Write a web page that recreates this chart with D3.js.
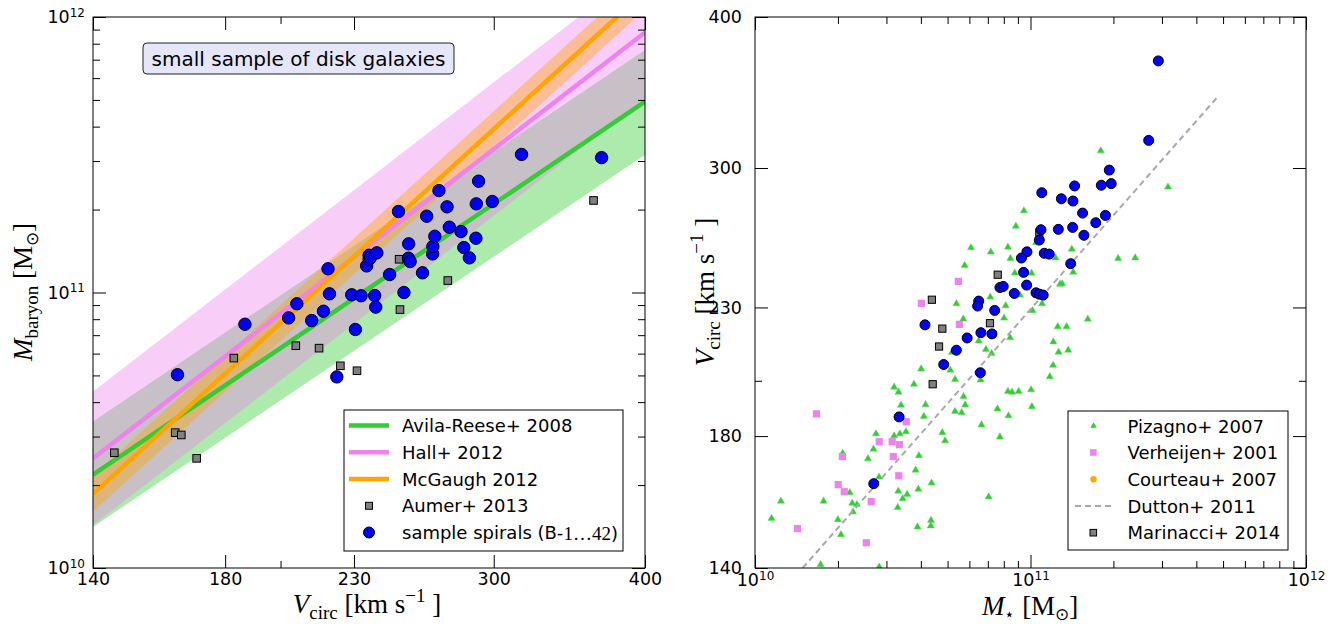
<!DOCTYPE html>
<html><head><meta charset="utf-8">
<script src="https://cdn.jsdelivr.net/npm/d3@7"></script>
<style>
body{margin:0;background:#fff}
svg{display:block}
</style>
</head><body>
<svg id="chart" width="1336" height="624" font-family="DejaVu Sans"></svg>
<script>
// ---------------- tick values ----------------
const vTicks = [140, 180, 230, 300, 400];
const vMinorTicks = [200];
const massTicks = [1e10, 1e11, 1e12];
const massMinorTicks = [2e10,3e10,4e10,5e10,6e10,7e10,8e10,9e10,2e11,3e11,4e11,5e11,6e11,7e11,8e11,9e11];

// ---------------- left panel: scaling relations (endpoints at V = 140, 400) ----------------
const relationV = [140, 400];
const avilaReeseM  = [2.18e10, 4.93e11];
const avilaReeseLo = [1.41e10, 3.16e11];
const avilaReeseHi = [3.40e10, 7.59e11];
const hallM  = [2.50e10, 8.79e11];
const hallLo = [1.43e10, 5.04e11];
const hallHi = [4.37e10, 1.535e12];
const mcgaughM  = [1.86e10, 1.238e12];
const mcgaughLo = [1.60e10, 1.066e12];
const mcgaughHi = [2.16e10, 1.438e12];

// Aumer+ 2013 (left panel)
const aumerV = [183.0, 205.9, 215.2, 224.1, 231.3, 250.6, 251.0, 274.9, 362.7, 145.8, 163.7, 165.6, 170.5];
const aumerMbar = [5.78e10, 6.41e10, 6.28e10, 5.42e10, 5.20e10, 1.32e11, 8.67e10, 1.105e11, 2.158e11, 2.62e10, 3.10e10, 3.04e10, 2.50e10];

// sample spirals (left panel)
const spiralV = [164.4, 186.9, 203.1, 206.3, 212.2, 217.0, 218.9, 219.5, 222.6, 229.0, 230.6, 233.1, 235.6, 236.7, 236.7, 237.3,
  239.2, 239.7, 240.2, 246.1, 250.3, 252.9, 255.1, 255.9, 255.2, 262.0, 264.1, 267.1, 267.2, 268.2, 270.3, 274.5, 275.7,
  281.9, 283.4, 286.4, 290.0, 290.2, 291.5, 299.2, 316.3, 368.3];
const spiralMbar = [5.03e10, 7.67e10, 8.09e10, 9.10e10, 7.91e10, 8.55e10, 1.219e11, 9.89e10, 4.94e10, 9.81e10, 7.34e10, 9.73e10, 1.249e11, 1.32e11, 1.365e11, 1.34e11,
  9.75e10, 8.85e10, 1.393e11, 1.162e11, 1.968e11, 1.0e11, 1.332e11, 1.295e11, 1.502e11, 1.179e11, 1.892e11, 1.381e11, 1.469e11, 1.600e11, 2.344e11, 2.046e11, 1.726e11,
  1.664e11, 1.456e11, 1.336e11, 1.574e11, 2.098e11, 2.535e11, 2.139e11, 3.17e11, 3.087e11];

// ---------------- right panel ----------------
// Pizagno+ 2007 (log10 M*, Vcirc)
const pizagnoLogMstar = [10.812,10.838,10.859,10.715,10.603,10.709,10.726,10.819,10.577,10.505,10.521,10.918,10.933,10.957,10.757,10.763,10.619,10.530,10.726,10.750,
  10.613,10.880,10.920,10.822,10.680,10.690,10.889,10.548,10.526,10.505,10.439,10.430,10.410,10.318,10.595,10.583,10.641,10.593,10.520,10.552,
  10.536,10.518,10.450,10.344,10.353,10.370,10.356,10.301,10.312,10.094,10.249,10.060,10.639,10.638,10.590,10.848,10.238,10.451,
  11.255,10.976,10.947,10.784,10.856,10.918,10.927,10.761,10.943,11.004,11.150,11.091,11.318,11.380,11.155,11.107,11.115,10.731,10.854,10.910,
  11.007,11.042,10.756,10.904,11.208,11.099,11.131,10.926,10.962,11.020,11.083,11.137,11.102,11.082,11.070,11.002,11.005,11.499];
const pizagnoV = [215.8,212.3,210.7,211.2,204.6,204.1,200.5,200.3,198.7,197.6,195.7,196.0,195.7,196.0,194.1,191.0,191.1,190.9,188.7,188.2,
  186.9,189.6,187.1,183.9,181.2,178.4,179.7,181.5,180.8,180.1,180.8,175.6,172.4,174.2,173.4,168.7,164.6,162.7,162.1,161.1,
  159.8,157.1,166.5,161.6,158.4,158.0,155.8,153.5,149.2,159.0,159.0,153.9,153.3,151.7,151.4,160.3,140.9,140.3,
  310.0,276.5,268.5,257.7,255.6,258.0,252.5,249.2,245.6,245.5,257.0,252.8,252.5,252.8,246.0,240.4,240.6,231.7,234.6,230.8,
  228.6,231.7,225.0,225.4,224.9,221.7,221.7,217.1,235.5,260.2,215.4,212.0,211.2,206.0,201.6,196.6,190.4,289.3];

// Verheijen+ 2001
const verheijenLogMstar = [10.223,10.549,10.451,10.498,10.524,10.317,10.502,10.522,10.302,10.324,10.422,10.154,10.404,10.738,10.604,10.742];
const verheijenV = [187.8,185.0,178.1,178.1,177.1,173.1,173.1,166.9,164.1,161.9,158.9,150.9,146.9,241.7,231.8,222.7];

// Courteau+ 2007 (legend only, no visible points)
const courteauLogMstar = [];
const courteauV = [];

// Dutton+ 2011 relation (endpoints)
const duttonLogMstar = [10.173, 11.682];
const duttonV = [140, 344.1];

// Marinacci+ 2014
const marinacciLogMstar = [10.645,10.668,10.680,10.642,10.853,10.881,11.032];
const marinacciV = [198.7,213.5,220.9,233.4,223.2,244.8,265.2];

// sample spirals (right panel)
const spiralLogMstar = [11.286,11.160,11.257,11.293,11.041,11.112,11.154,11.189,11.272,11.237,11.038,11.101,11.153,11.194,11.032,10.987,
  10.967,11.050,11.068,11.146,10.975,10.986,10.889,10.901,10.941,11.020,11.032,11.046,10.812,10.808,10.870,10.617,10.820,10.860,10.770,
  10.431,10.523,10.685,10.731,10.818,11.464,11.429];
const spiralVcircR = [298.8,289.9,290.3,291.2,286.2,282.9,281.7,275.3,274.1,270.3,266.7,266.9,267.9,263.9,261.5,255.7,
  252.7,255.0,254.6,250.0,245.9,240.0,238.9,239.4,236.2,236.5,235.9,235.5,232.8,230.6,228.7,222.5,219.2,218.7,217.0,
  164.4,186.7,206.3,212.0,203.1,367.9,316.2];

const leftLegend = ["Avila-Reese+ 2008", "Hall+ 2012", "McGaugh 2012", "Aumer+ 2013", "sample spirals (B-"];
const rightLegend = ["Pizagno+ 2007", "Verheijen+ 2001", "Courteau+ 2007", "Dutton+ 2011", "Marinacci+ 2014"];

// ---------------- colours ----------------
const GREEN = "#32cd32", PINK = "#ee82ee", ORANGE = "#ffa500", BLUE = "#0000ff", GRAY = "#808080";

const svg = d3.select("#chart");

const L = {x0: 93, x1: 645, y0: 568, y1: 17};
const R = {x0: 755, x1: 1306, y0: 568, y1: 17};

const xL = d3.scaleLog().domain([140, 400]).range([L.x0, L.x1]);
const yL = d3.scaleLog().domain([1e10, 1e12]).range([L.y0, L.y1]);
const xR = d3.scaleLog().domain([1e10, 1e12]).range([R.x0, R.x1]);
const yR = d3.scaleLog().domain([140, 400]).range([R.y0, R.y1]);

const defs = svg.append("defs");
defs.append("clipPath").attr("id", "clipL").append("rect")
  .attr("x", L.x0).attr("y", L.y1).attr("width", L.x1 - L.x0).attr("height", L.y0 - L.y1);
defs.append("clipPath").attr("id", "clipR").append("rect")
  .attr("x", R.x0).attr("y", R.y1).attr("width", R.x1 - R.x0).attr("height", R.y0 - R.y1);

function powFmt(sel) {
  sel.selectAll(".tick text").each(function(d) {
    const t = d3.select(this);
    t.text(null);
    t.append("tspan").text("10");
    t.append("tspan").attr("dy", "-0.55em").attr("font-size", "12px").text(Math.round(Math.log10(d)));
  });
}

function drawAxes(P, xs, ys, xMaj, xMin, yMaj, yMin, xPow, yPow) {
  const g = svg.append("g");
  const style = a => a.attr("font-size", 17.5).attr("font-family", "DejaVu Sans").call(s => s.select(".domain").remove());
  const bx = g.append("g").attr("transform", `translate(0,${P.y0})`)
    .call(d3.axisBottom(xs).tickValues(xMaj).tickSizeInner(-13).tickSizeOuter(0).tickPadding(xPow ? 6 : 5)
      .tickFormat(xPow ? (d => d) : d3.format("d"))).call(style);
  if (xPow) powFmt(bx);
  g.append("g").attr("transform", `translate(0,${P.y0})`)
    .call(d3.axisBottom(xs).tickValues(xMin).tickSizeInner(-7).tickSizeOuter(0).tickFormat("")).call(style);
  g.append("g").attr("transform", `translate(0,${P.y1})`)
    .call(d3.axisTop(xs).tickValues(xMaj).tickSizeInner(-13).tickSizeOuter(0).tickFormat("")).call(style);
  g.append("g").attr("transform", `translate(0,${P.y1})`)
    .call(d3.axisTop(xs).tickValues(xMin).tickSizeInner(-7).tickSizeOuter(0).tickFormat("")).call(style);
  const ly = g.append("g").attr("transform", `translate(${P.x0},0)`)
    .call(d3.axisLeft(ys).tickValues(yMaj).tickSizeInner(-13).tickSizeOuter(0).tickPadding(yPow ? 8 : 13)
      .tickFormat(yPow ? (d => d) : d3.format("d"))).call(style);
  if (yPow) powFmt(ly);
  g.append("g").attr("transform", `translate(${P.x0},0)`)
    .call(d3.axisLeft(ys).tickValues(yMin).tickSizeInner(-7).tickSizeOuter(0).tickFormat("")).call(style);
  g.append("g").attr("transform", `translate(${P.x1},0)`)
    .call(d3.axisRight(ys).tickValues(yMaj).tickSizeInner(-13).tickSizeOuter(0).tickFormat("")).call(style);
  g.append("g").attr("transform", `translate(${P.x1},0)`)
    .call(d3.axisRight(ys).tickValues(yMin).tickSizeInner(-7).tickSizeOuter(0).tickFormat("")).call(style);
  g.selectAll(".tick line").attr("stroke", "#000").attr("stroke-width", 1);
  g.append("rect").attr("x", P.x0).attr("y", P.y1).attr("width", P.x1 - P.x0).attr("height", P.y0 - P.y1)
    .attr("fill", "none").attr("stroke", "#000").attr("stroke-width", 1);
}

// ================= LEFT PANEL =================
const gL = svg.append("g").attr("clip-path", "url(#clipL)");
function band(lo, hi, color) {
  const data = relationV.map((v, i) => ({v, lo: lo[i], hi: hi[i]}));
  gL.append("path").datum(data)
    .attr("d", d3.area().x(d => xL(d.v)).y0(d => yL(d.lo)).y1(d => yL(d.hi)))
    .attr("fill", color).attr("fill-opacity", 0.4).attr("stroke", "none");
}
function relLine(m, color) {
  const data = relationV.map((v, i) => ({v, m: m[i]}));
  gL.append("path").datum(data)
    .attr("d", d3.line().x(d => xL(d.v)).y(d => yL(d.m)))
    .attr("fill", "none").attr("stroke", color).attr("stroke-width", 4.5);
}
band(avilaReeseLo, avilaReeseHi, GREEN);
band(hallLo, hallHi, PINK);
band(mcgaughLo, mcgaughHi, ORANGE);
relLine(avilaReeseM, GREEN);
relLine(hallM, PINK);
relLine(mcgaughM, ORANGE);

gL.selectAll("rect.aumer").data(aumerV.map((v, i) => ({v, m: aumerMbar[i]}))).join("rect")
  .attr("x", d => xL(d.v) - 3.8).attr("y", d => yL(d.m) - 3.8).attr("width", 7.6).attr("height", 7.6)
  .attr("fill", GRAY).attr("stroke", "#000").attr("stroke-width", 1);
gL.selectAll("circle.sp").data(spiralV.map((v, i) => ({v, m: spiralMbar[i]}))).join("circle")
  .attr("cx", d => xL(d.v)).attr("cy", d => yL(d.m)).attr("r", 6.2)
  .attr("fill", BLUE).attr("stroke", "#000").attr("stroke-width", 1);

drawAxes(L, xL, yL, vTicks, vMinorTicks, massTicks, massMinorTicks, false, true);

// annotation box
svg.append("rect").attr("x", 143).attr("y", 43).attr("width", 311).attr("height", 31).attr("rx", 4)
  .attr("fill", "#e6e6fa").attr("stroke", "#222").attr("stroke-width", 1);
svg.append("text").attr("x", 298.5).attr("y", 59).attr("text-anchor", "middle").attr("dominant-baseline", "central")
  .attr("font-size", 20).text("small sample of disk galaxies");

// left legend
const legL = svg.append("g");
legL.append("rect").attr("x", 344).attr("y", 410).attr("width", 279).attr("height", 141)
  .attr("fill", "#fff").attr("stroke", "#000").attr("stroke-width", 1);
const rowY = [425.5, 452.3, 479, 505.8, 532.5];
[GREEN, PINK, ORANGE].forEach((c, i) => {
  legL.append("line").attr("x1", 349).attr("x2", 389).attr("y1", rowY[i]).attr("y2", rowY[i])
    .attr("stroke", c).attr("stroke-width", 4.5);
});
legL.append("rect").attr("x", 369 - 3.5).attr("y", rowY[3] - 3.5).attr("width", 7).attr("height", 7)
  .attr("fill", GRAY).attr("stroke", "#000").attr("stroke-width", 1);
legL.append("circle").attr("cx", 369).attr("cy", rowY[4]).attr("r", 5.5).attr("fill", BLUE).attr("stroke", "#000").attr("stroke-width", 1);
leftLegend.forEach((t, i) => {
  const tx = legL.append("text").attr("x", 402).attr("y", rowY[i]).attr("dominant-baseline", "central")
    .attr("font-size", 18).text(t);
  if (i === 4) {
    tx.append("tspan").attr("font-family", "Liberation Serif").attr("font-size", 19).text("1…42");
    tx.append("tspan").text(")");
  }
});

// axis labels (left)
const ser = "Liberation Serif";
const xlabL = svg.append("text").attr("x", 367).attr("y", 613).attr("text-anchor", "middle")
  .attr("font-family", ser).attr("font-size", 27);
xlabL.append("tspan").attr("font-style", "italic").text("V");
xlabL.append("tspan").attr("font-size", 19).attr("dy", 6).text("circ");
xlabL.append("tspan").attr("dy", -6).text(" [km s");
xlabL.append("tspan").attr("font-size", 19).attr("dy", -11).text("−1");
xlabL.append("tspan").attr("dy", 11).text(" ]");

const ylabL = svg.append("text").attr("transform", "translate(32,292) rotate(-90)").attr("text-anchor", "middle")
  .attr("font-family", ser).attr("font-size", 27);
ylabL.append("tspan").attr("font-style", "italic").text("M");
ylabL.append("tspan").attr("font-size", 19).attr("dy", 6).text("baryon");
ylabL.append("tspan").attr("dy", -6).text(" [M");
ylabL.append("tspan").attr("font-size", 17).attr("dy", 6).text("⊙");
ylabL.append("tspan").attr("dy", -6).text("]");

// ================= RIGHT PANEL =================
const gR = svg.append("g").attr("clip-path", "url(#clipR)");
const triSym = d3.symbol().type(d3.symbolTriangle).size(22);
gR.selectAll("path.piz").data(pizagnoLogMstar.map((m, i) => ({m, v: pizagnoV[i]}))).join("path")
  .attr("transform", d => `translate(${xR(Math.pow(10, d.m))},${yR(d.v)})`)
  .attr("d", triSym).attr("fill", GREEN).attr("stroke", "#5fd85f").attr("stroke-width", 0.5);
gR.selectAll("rect.ver").data(verheijenLogMstar.map((m, i) => ({m, v: verheijenV[i]}))).join("rect")
  .attr("x", d => xR(Math.pow(10, d.m)) - 3.6).attr("y", d => yR(d.v) - 3.6).attr("width", 7.2).attr("height", 7.2)
  .attr("fill", PINK);
gR.selectAll("circle.cou").data(courteauLogMstar.map((m, i) => ({m, v: courteauV[i]}))).join("circle")
  .attr("cx", d => xR(Math.pow(10, d.m))).attr("cy", d => yR(d.v)).attr("r", 3).attr("fill", ORANGE);
gR.append("path").datum(duttonLogMstar.map((m, i) => ({m, v: duttonV[i]})))
  .attr("d", d3.line().x(d => xR(Math.pow(10, d.m))).y(d => yR(d.v)))
  .attr("fill", "none").attr("stroke", "#a9a9a9").attr("stroke-width", 2).attr("stroke-dasharray", "6,4");
gR.selectAll("rect.mar").data(marinacciLogMstar.map((m, i) => ({m, v: marinacciV[i]}))).join("rect")
  .attr("x", d => xR(Math.pow(10, d.m)) - 3.6).attr("y", d => yR(d.v) - 3.6).attr("width", 7.2).attr("height", 7.2)
  .attr("fill", GRAY).attr("stroke", "#000").attr("stroke-width", 1);
gR.selectAll("circle.spr").data(spiralLogMstar.map((m, i) => ({m, v: spiralVcircR[i]}))).join("circle")
  .attr("cx", d => xR(Math.pow(10, d.m))).attr("cy", d => yR(d.v)).attr("r", 5)
  .attr("fill", BLUE).attr("stroke", "#000").attr("stroke-width", 1);

drawAxes(R, xR, yR, massTicks, massMinorTicks, vTicks, vMinorTicks, true, false);

// right legend
const legR = svg.append("g");
legR.append("rect").attr("x", 1068).attr("y", 411).attr("width", 220).attr("height", 139)
  .attr("fill", "#fff").attr("stroke", "#000").attr("stroke-width", 1);
const rowYR = [426, 452.5, 479.3, 506, 532.7];
legR.append("path").attr("transform", `translate(1093.5,${rowYR[0]})`).attr("d", d3.symbol().type(d3.symbolTriangle).size(18)).attr("fill", GREEN);
legR.append("rect").attr("x", 1090).attr("y", rowYR[1] - 3.3).attr("width", 6.6).attr("height", 6.6).attr("fill", PINK);
legR.append("circle").attr("cx", 1093.5).attr("cy", rowYR[2]).attr("r", 3.2).attr("fill", ORANGE);
legR.append("line").attr("x1", 1075).attr("x2", 1113).attr("y1", rowYR[3]).attr("y2", rowYR[3])
  .attr("stroke", "#a9a9a9").attr("stroke-width", 2).attr("stroke-dasharray", "6,4");
legR.append("rect").attr("x", 1090).attr("y", rowYR[4] - 3.3).attr("width", 6.6).attr("height", 6.6)
  .attr("fill", GRAY).attr("stroke", "#000").attr("stroke-width", 1);
rightLegend.forEach((t, i) => {
  legR.append("text").attr("x", 1127.5).attr("y", rowYR[i]).attr("dominant-baseline", "central")
    .attr("font-size", 18).text(t);
});

// axis labels (right)
const xlabR = svg.append("text").attr("x", 1030).attr("y", 615).attr("text-anchor", "middle")
  .attr("font-family", ser).attr("font-size", 27);
xlabR.append("tspan").attr("font-style", "italic").text("M");
xlabR.append("tspan").attr("font-size", 17).attr("dy", 5).text("⋆");
xlabR.append("tspan").attr("dy", -5).text(" [M");
xlabR.append("tspan").attr("font-size", 17).attr("dy", 5).text("⊙");
xlabR.append("tspan").attr("dy", -5).text("]");

const ylabR = svg.append("text").attr("transform", "translate(714,292) rotate(-90)").attr("text-anchor", "middle")
  .attr("font-family", ser).attr("font-size", 27);
ylabR.append("tspan").attr("font-style", "italic").text("V");
ylabR.append("tspan").attr("font-size", 19).attr("dy", 6).text("circ");
ylabR.append("tspan").attr("dy", -6).text(" [km s");
ylabR.append("tspan").attr("font-size", 19).attr("dy", -11).text("−1");
ylabR.append("tspan").attr("dy", 11).text(" ]");
</script>
</body></html>
